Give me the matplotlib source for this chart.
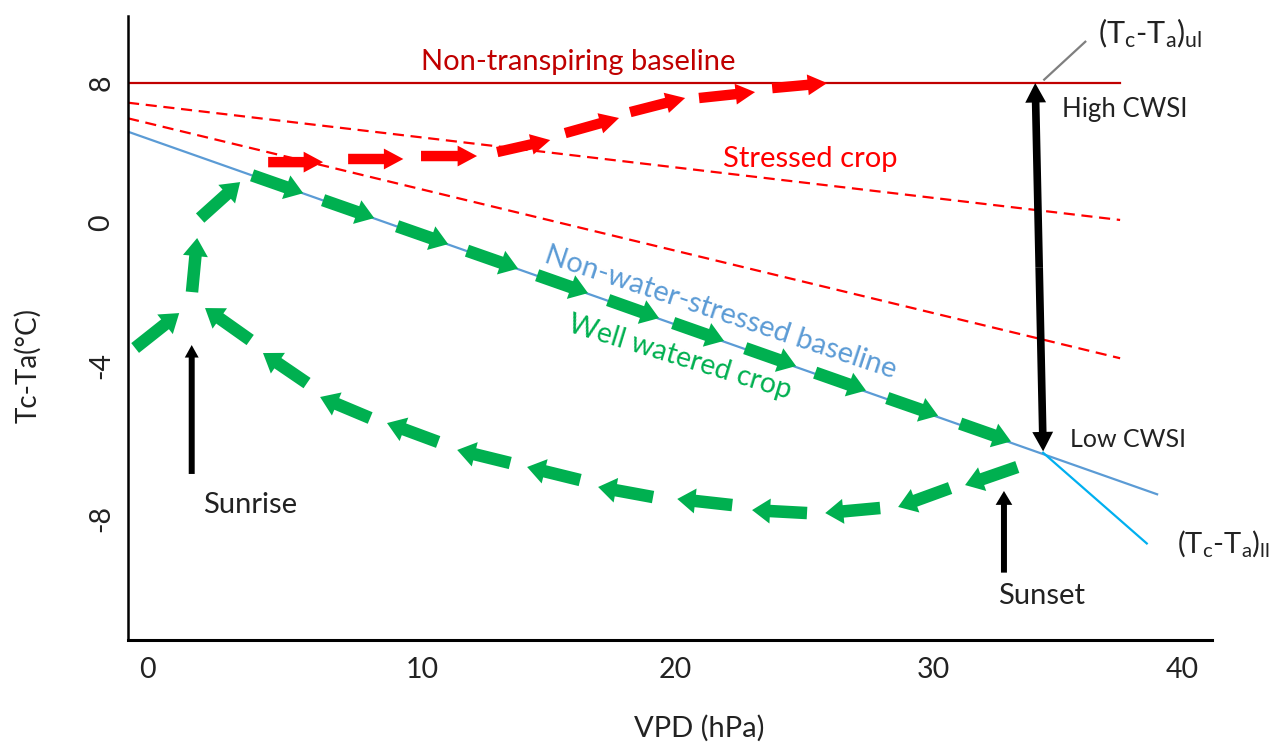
import matplotlib
matplotlib.use("Agg")
import matplotlib.pyplot as plt
from matplotlib.patches import FancyArrowPatch
from matplotlib.patches import ArrowStyle

plt.rcParams['font.family'] = 'Lato'
plt.rcParams['mathtext.fontset'] = 'custom'
plt.rcParams['mathtext.rm'] = 'Lato'
plt.rcParams['mathtext.it'] = 'Lato:italic'

# axis ticks as drawn in the schematic
xtick_pos = [0, 10.1, 19.4, 28.9, 38.05]
xtick_labels = ['0', '10', '20', '30', '40']
ytick_pos = [8, -0.06, -8.23, -17.04]
ytick_labels = ['8', '0', '-4', '-8']

# baselines (VPD, Tc-Ta)
nontransp_x = [-0.70, 35.77]
nontransp_y = [8.0, 8.0]
stressed_hi_x = [-0.70, 35.77]
stressed_hi_y = [6.87, 0.12]
stressed_lo_x = [-0.70, 35.77]
stressed_lo_y = [5.97, -7.84]
nwsb_x = [-0.70, 37.13]
nwsb_y = [5.20, -15.67]
ll_x = [32.94, 36.75]
ll_y = [-13.28, -18.50]
leader_x = [32.98, 34.49]
leader_y = [8.20, 10.38]

# well watered crop, daily course (tail -> head of each arrow)
green_tail_x = [-0.44, 1.65, 1.95, 3.86, 6.47, 9.19, 11.76, 14.34, 16.95, 19.34, 21.99, 24.56, 27.21,
                29.89, 31.99, 29.52, 26.95, 24.26, 21.51, 18.60, 15.92, 13.35, 10.70, 8.20, 5.88, 3.79]
green_tail_y = [-7.25, -4.03, 0.23, 2.69, 1.26, -0.24, -1.65, -3.06, -4.49, -5.81, -7.26, -8.67, -10.13,
                -11.60, -14.10, -15.31, -16.46, -16.75, -16.29, -15.83, -14.85, -13.87, -12.66, -11.28, -9.27, -6.79]
green_head_x = [1.18, 1.84, 3.42, 5.74, 8.35, 11.07, 13.64, 16.21, 18.82, 21.21, 23.86, 26.43, 29.08,
                31.76, 30.07, 27.61, 24.93, 22.24, 19.49, 16.58, 13.97, 11.40, 8.82, 6.36, 4.26, 2.13]
green_head_y = [-5.24, -0.92, 2.30, 1.66, 0.23, -1.27, -2.68, -4.09, -5.53, -6.84, -8.29, -9.70, -11.15,
                -12.63, -15.14, -16.40, -16.75, -16.58, -15.94, -15.25, -14.10, -13.12, -11.57, -10.07, -7.54, -4.95]

# stressed crop, daily course
red_tail_x = [4.45, 7.39, 10.07, 12.87, 15.37, 17.76, 20.29, 22.98]
red_tail_y = [3.45, 3.63, 3.80, 4.03, 5.12, 6.33, 7.14, 7.71]
red_head_x = [6.47, 9.42, 12.13, 14.82, 17.35, 19.78, 22.35, 25.00]
red_head_y = [3.45, 3.63, 3.80, 4.72, 5.99, 7.14, 7.48, 8.00]

# CWSI range, sunrise and sunset markers
cwsi_x = [32.65, 32.94]
cwsi_y = [8.0, -13.20]
sunrise_x = [1.64, 1.64]
sunrise_y = [-14.5, -7.08]
sunset_x = [31.5, 31.5]
sunset_y = [-20.18, -15.48]

DARKRED = '#C00000'
RED = '#FF0000'
GREEN = '#00B050'
BLUE = '#5B9BD5'
LIGHTBLUE = '#00B0F0'
INK = '#222222'


def arrow(ax, x0, y0, x1, y1, color, tail, hw, hl, z=5):
    st = ArrowStyle.Simple(head_length=hl, head_width=hw, tail_width=tail)
    p = FancyArrowPatch((x0, y0), (x1, y1), arrowstyle=st, mutation_scale=1,
                        shrinkA=0, shrinkB=0, color=color, lw=0, zorder=z)
    ax.add_patch(p)


fig = plt.figure(figsize=(12.78, 7.45), dpi=100)
ax = fig.add_axes([0.1002, 0.1409, 0.8482, 0.8376])
ax.set_xlim(-0.70, 39.15)
ax.set_ylim(-24.06, 11.86)

ax.plot(nontransp_x, nontransp_y, color=DARKRED, lw=1.6, zorder=2)
ax.plot(stressed_hi_x, stressed_hi_y, color=RED, lw=1.6, ls=(0, (5, 3)), zorder=2)
ax.plot(stressed_lo_x, stressed_lo_y, color=RED, lw=1.6, ls=(0, (5, 3)), zorder=2)
ax.plot(nwsb_x, nwsb_y, color=BLUE, lw=1.6, zorder=2)
ax.plot(ll_x, ll_y, color=LIGHTBLUE, lw=1.6, zorder=2)
ax.plot(leader_x, leader_y, color='#7F7F7F', lw=1.6, zorder=2)

for i in range(len(green_tail_x)):
    arrow(ax, green_tail_x[i], green_tail_y[i], green_head_x[i], green_head_y[i], GREEN, 9, 18, 13)
for i in range(len(red_tail_x)):
    arrow(ax, red_tail_x[i], red_tail_y[i], red_head_x[i], red_head_y[i], RED, 7.5, 15, 14)

# double headed CWSI arrow drawn from the middle outwards
mx = (cwsi_x[0] + cwsi_x[1]) / 2
my = (cwsi_y[0] + cwsi_y[1]) / 2
arrow(ax, mx, my, cwsi_x[0], cwsi_y[0], 'black', 5.5, 15, 14, z=6)
arrow(ax, mx, my, cwsi_x[1], cwsi_y[1], 'black', 5.5, 15, 14, z=6)
arrow(ax, sunrise_x[0], sunrise_y[0], sunrise_x[1], sunrise_y[1], 'black', 4.3, 10, 9, z=6)
arrow(ax, sunset_x[0], sunset_y[0], sunset_x[1], sunset_y[1], 'black', 4.3, 12, 10, z=6)

# labels
ax.text(15.85, 8.75, 'Non-transpiring baseline', color=DARKRED, fontsize=21, ha='center', va='baseline')
ax.text(24.38, 3.17, 'Stressed crop', color=RED, fontsize=21, ha='center', va='baseline')
ax.text(21.07, -5.24, 'Non-water-stressed baseline', color=BLUE, fontsize=21, ha='center', va='center',
        rotation=-18.4, rotation_mode='anchor')
ax.text(19.60, -7.77, 'Well watered crop', color=GREEN, fontsize=20.5, ha='center', va='center',
        rotation=-17, rotation_mode='anchor')
ax.text(33.64, 6.04, 'High CWSI', fontsize=18.5, ha='left', va='baseline', color=INK)
ax.text(33.93, -12.95, 'Low CWSI', fontsize=18, ha='left', va='baseline', color=INK)
ax.text(34.96, 10.30, r'(T$_\mathrm{c}$-T$_\mathrm{a}$)$_\mathrm{ul}$', fontsize=22, ha='left',
        va='baseline', color=INK)
ax.text(37.87, -19.05, r'(T$_\mathrm{c}$-T$_\mathrm{a}$)$_\mathrm{ll}$', fontsize=21, ha='left',
        va='baseline', color=INK)
ax.text(2.06, -16.75, 'Sunrise', fontsize=21, ha='left', va='baseline', color=INK)
ax.text(31.29, -21.99, 'Sunset', fontsize=21, ha='left', va='baseline', color=INK)

ax.spines['top'].set_visible(False)
ax.spines['right'].set_visible(False)
ax.spines['left'].set_linewidth(1.8)
ax.spines['bottom'].set_linewidth(2.2)

ax.set_xticks(xtick_pos, xtick_labels)
ax.set_yticks(ytick_pos, ytick_labels, rotation=90, va='center')
ax.tick_params(axis='x', length=0, pad=12, labelsize=20.5, labelcolor=INK)
ax.tick_params(axis='y', length=0, pad=10, labelsize=20.5, labelcolor=INK)

ax.set_xlabel('VPD (hPa)', fontsize=21, va='center', color=INK)
ax.xaxis.set_label_coords(0.5268, -0.141)
ax.set_ylabel('Tc-Ta(°C)', fontsize=20, va='center', color=INK)
ax.yaxis.set_label_coords(-0.0923, 0.4407)

plt.savefig('out.png', dpi=100)
